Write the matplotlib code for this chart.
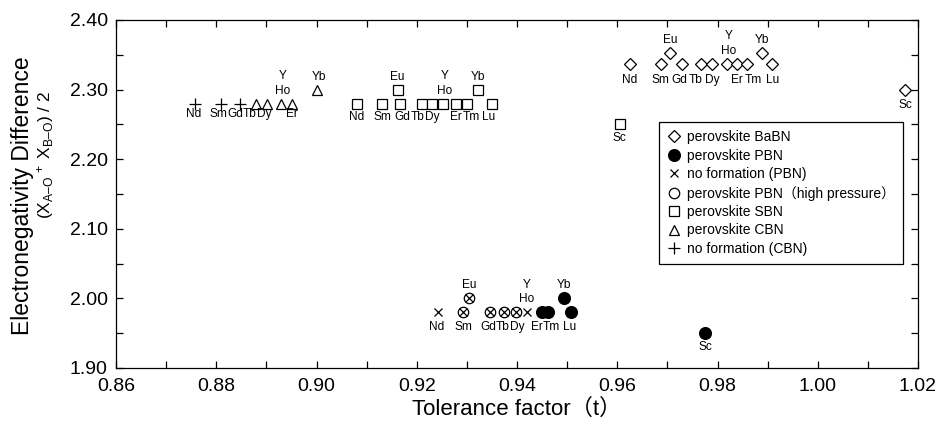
import matplotlib
matplotlib.use('Agg')
import matplotlib.pyplot as plt
from matplotlib.ticker import MultipleLocator, FormatStrFormatter
from matplotlib.lines import Line2D

plt.rcParams['font.family'] = ['Liberation Sans', 'Noto Sans CJK JP', 'DejaVu Sans']
plt.rcParams['mathtext.fontset'] = 'custom'
plt.rcParams['mathtext.rm'] = 'Liberation Sans'
plt.rcParams['mathtext.it'] = 'Liberation Sans'

# ---- data ----
cbn_el = ['Nd', 'Sm', 'Gd', 'Tb', 'Dy', 'Ho/Y', 'Er', 'Yb']
cbn_t = [0.8758, 0.8809, 0.8847, 0.8879, 0.8901, 0.8929, 0.8951, 0.9001]
cbn_y = [2.28, 2.28, 2.28, 2.28, 2.28, 2.28, 2.28, 2.30]
cbn_st = ['no', 'no', 'no', 'p', 'p', 'p', 'p', 'p']

sbn_el = ['Nd', 'Sm', 'Eu', 'Gd', 'Tb', 'Dy', 'Ho/Y', 'Er', 'Tm', 'Yb', 'Lu', 'Sc']
sbn_t = [0.9081, 0.9131, 0.9163, 0.9167, 0.9210, 0.9230, 0.9252, 0.9278, 0.9300, 0.9322, 0.9350, 0.9605]
sbn_y = [2.28, 2.28, 2.30, 2.28, 2.28, 2.28, 2.28, 2.28, 2.28, 2.30, 2.28, 2.25]

babn_el = ['Nd', 'Sm', 'Eu', 'Gd', 'Tb', 'Dy', 'Ho/Y', 'Er', 'Tm', 'Yb', 'Lu', 'Sc']
babn_t = [0.9625, 0.9687, 0.9705, 0.9729, 0.9767, 0.9789, 0.9819, 0.9839, 0.9859, 0.9889, 0.9909, 1.0174]
babn_y = [2.337, 2.337, 2.353, 2.337, 2.337, 2.337, 2.337, 2.337, 2.337, 2.353, 2.337, 2.30]

pbn_el = ['Nd', 'Sm', 'Eu', 'Gd', 'Tb', 'Dy', 'Ho/Y', 'Er', 'Tm', 'Yb', 'Lu', 'Sc']
pbn_t = [0.9242, 0.9292, 0.9304, 0.9346, 0.9374, 0.9398, 0.9420, 0.9450, 0.9462, 0.9494, 0.9508, 0.9775]
pbn_y = [1.98, 1.98, 2.00, 1.98, 1.98, 1.98, 1.98, 1.98, 1.98, 2.00, 1.98, 1.95]
pbn_st = ['no', 'hp', 'hp', 'hp', 'hp', 'hp', 'no', 'p', 'p', 'p', 'p', 'p']

legend_labels = ['perovskite BaBN', 'perovskite PBN', 'no formation (PBN)',
                 'perovskite PBN（high pressure）', 'perovskite SBN',
                 'perovskite CBN', 'no formation (CBN)']

# label horizontal nudges (pixels) so that neighbouring element names do not collide
cbn_nudge = {'Nd': -1.5, 'Sm': -2.5, 'Gd': -4.5, 'Tb': -6, 'Dy': -2.5, 'Ho/Y': 1.5, 'Yb': 2}
sbn_nudge = {'Gd': 2.5, 'Tb': -4.5, 'Dy': 0.5, 'Tm': 4, 'Lu': -3, 'Ho/Y': 2, 'Eu': -1}
babn_nudge = {'Gd': -3, 'Tb': -5, 'Tm': 6, 'Ho/Y': 2}
pbn_nudge = {'Nd': -1.5, 'Sm': 1, 'Gd': -2, 'Tb': -1, 'Dy': 1.5, 'Er': -5.5, 'Tm': 3.5, 'Lu': -2}

# ---- styles ----
st_babn = dict(marker='D', ms=5.8, mfc='white', mec='black', mew=0.9, ls='none')
st_pbn = dict(marker='o', ms=8.5, mfc='black', mec='black', mew=0.9, ls='none')
st_nopbn = dict(marker='x', ms=5.5, mfc='none', mec='black', mew=0.9, ls='none')
st_hp = dict(marker='o', ms=7.5, mfc='none', mec='black', mew=0.9, ls='none')
st_sbn = dict(marker='s', ms=7, mfc='white', mec='black', mew=0.9, ls='none')
st_cbn = dict(marker='^', ms=7.5, mfc='white', mec='black', mew=0.9, ls='none')
st_nocbn = dict(marker='+', ms=8, mfc='none', mec='black', mew=0.9, ls='none')

AX_L, AX_R, AX_T, AX_B = 116, 918, 20, 368
fig = plt.figure(figsize=(9.42, 4.30), dpi=100)
ax = fig.add_axes([AX_L / 942, 1 - AX_B / 430, (AX_R - AX_L) / 942, (AX_B - AX_T) / 430])

# CBN
ax.plot([t for t, s in zip(cbn_t, cbn_st) if s == 'no'],
        [y for y, s in zip(cbn_y, cbn_st) if s == 'no'], **st_nocbn)
ax.plot([t for t, s in zip(cbn_t, cbn_st) if s == 'p'],
        [y for y, s in zip(cbn_y, cbn_st) if s == 'p'], **st_cbn)
# SBN
ax.plot(sbn_t, sbn_y, **st_sbn)
# BaBN
ax.plot(babn_t, babn_y, **st_babn)
# PBN
ax.plot([t for t, s in zip(pbn_t, pbn_st) if s == 'p'],
        [y for y, s in zip(pbn_y, pbn_st) if s == 'p'], **st_pbn)
ax.plot([t for t, s in zip(pbn_t, pbn_st) if s == 'hp'],
        [y for y, s in zip(pbn_y, pbn_st) if s == 'hp'], **st_hp)
ax.plot([t for t, s in zip(pbn_t, pbn_st) if s in ('hp', 'no')],
        [y for y, s in zip(pbn_y, pbn_st) if s in ('hp', 'no')], **st_nopbn)

LFS = 8.6
PX = 0.72  # points per pixel at 100 dpi


def put_labels(el, ts, ys, below, nudge):
    for e, t, y in zip(el, ts, ys):
        dx = nudge.get(e, 0) * PX
        kw = dict(textcoords='offset points', ha='center', va='baseline', fontsize=LFS)
        if e == 'Ho/Y':
            ax.annotate('Ho', (t, y), xytext=(dx, 7.2), **kw)
            ax.annotate('Y', (t, y), xytext=(dx, 17.8), **kw)
        elif e in ('Eu', 'Yb'):
            ax.annotate(e, (t, y), xytext=(dx, 7.2), **kw)
        else:
            ax.annotate(e, (t, y), xytext=(dx, -below), **kw)


put_labels(cbn_el, cbn_t, cbn_y, 9.8, cbn_nudge)
put_labels(sbn_el, sbn_t, sbn_y, 12.0, sbn_nudge)
put_labels(babn_el, babn_t, babn_y, 13.5, babn_nudge)
put_labels(pbn_el, pbn_t, pbn_y, 12.4, pbn_nudge)

# axes
ax.set_xlim(0.86, 1.02)
ax.set_ylim(1.90, 2.40)
ax.xaxis.set_major_locator(MultipleLocator(0.02))
ax.xaxis.set_minor_locator(MultipleLocator(0.01))
ax.yaxis.set_major_locator(MultipleLocator(0.10))
ax.yaxis.set_minor_locator(MultipleLocator(0.05))
ax.xaxis.set_major_formatter(FormatStrFormatter('%.2f'))
ax.yaxis.set_major_formatter(FormatStrFormatter('%.2f'))
ax.tick_params(which='both', direction='in', top=True, right=True, length=5, width=0.9)
ax.tick_params(axis='x', which='major', labelsize=14, pad=7)
ax.tick_params(axis='y', which='major', labelsize=14, pad=6)
for sp in ax.spines.values():
    sp.set_linewidth(0.9)

ax.set_xlabel('Tolerance factor（t）', fontsize=16, labelpad=3)
fig.text(23 / 942, 1 - 196 / 430, 'Electronegativity Difference', rotation=90,
         ha='center', va='center', fontsize=16.5)
fig.text(46 / 942, 1 - 155 / 430,
         r'(X$_{\mathrm{A–O}}$$^{\,+}$ X$_{\mathrm{B–O}}$) / 2', rotation=90,
         ha='center', va='center', fontsize=12.5)

handles = [Line2D([], [], **st_babn), Line2D([], [], **st_pbn),
           Line2D([], [], **st_nopbn), Line2D([], [], **st_hp),
           Line2D([], [], **st_sbn), Line2D([], [], **st_cbn),
           Line2D([], [], **st_nocbn)]
leg = ax.legend(handles, legend_labels, loc='upper left',
                bbox_to_anchor=((659 - AX_L) / (AX_R - AX_L), (AX_B - 122) / (AX_B - AX_T)),
                fontsize=10, frameon=True, fancybox=False, edgecolor='black',
                framealpha=1, handlelength=0.9, handletextpad=0.5, labelspacing=0.32,
                borderpad=0.6, borderaxespad=0)
leg.get_frame().set_linewidth(0.9)

fig.savefig('out.png', dpi=100)
